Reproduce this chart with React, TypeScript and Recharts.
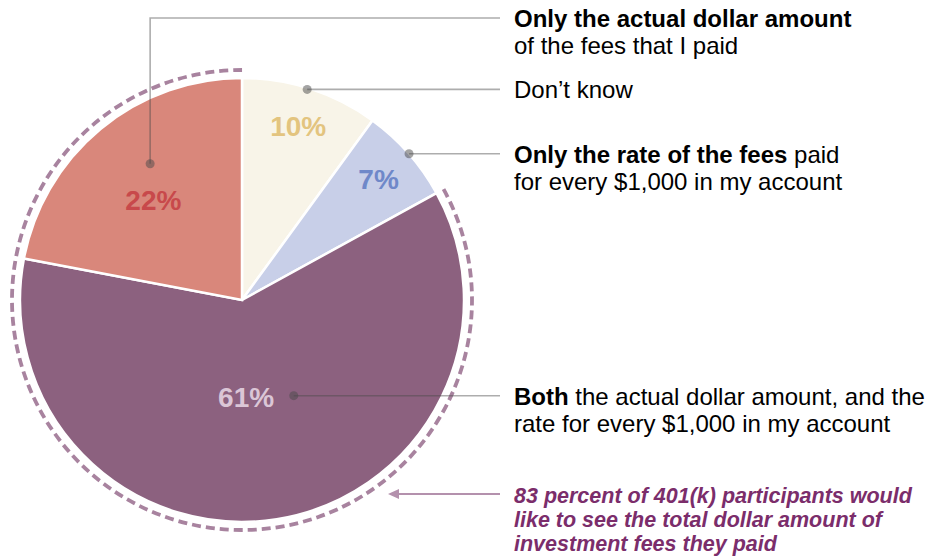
import React from 'react';
import { PieChart, Pie, Cell } from 'recharts';

// ---------- data ----------
const categories = [
  'Don’t know',
  'Only the rate of the fees',
  'Both',
  'Only the actual dollar amount',
];
const shares = [10, 7, 61, 22];
const pctLabels = ['10%', '7%', '61%', '22%'];

const answerLines = [
  [[{ t: 'Don’t know', b: false }]],
  [
    [{ t: 'Only the rate of the fees', b: true }, { t: ' paid', b: false }],
    [{ t: 'for every $1,000 in my account', b: false }],
  ],
  [
    [{ t: 'Both', b: true }, { t: ' the actual dollar amount, and the', b: false }],
    [{ t: 'rate for every $1,000 in my account', b: false }],
  ],
  [
    [{ t: 'Only the actual dollar amount', b: true }],
    [{ t: 'of the fees that I paid', b: false }],
  ],
];

const highlightNames = ['Other answers', 'Would like dollar amount'];
const highlightValues = [shares[0] + shares[1], shares[2] + shares[3]];
const highlightNote = [
  `${highlightValues[1]} percent of 401(k) participants would`,
  'like to see the total dollar amount of',
  'investment fees they paid',
];

const pieData = categories.map((name, i) => ({ name, value: shares[i] }));
const highlightData = highlightNames.map((name, i) => ({ name, value: highlightValues[i] }));

// ---------- styles / layout ----------
const FONT = '"Liberation Sans", Arial, sans-serif';
const fills = ['#f8f4e8', '#c8cfe8', '#8c617f', '#d9877b'];
const pctColors = ['#e3c47f', '#6f88c9', '#dbc6d6', '#c8494b'];
const labelPos = [
  { r: 0.82, da: 0 },
  { r: 0.82, da: 0 },
  { r: 0.44, da: -6.6 },
  { r: 0.6, da: 2.1 },
];
const dotPos = [
  { r: 0.993, da: 0.8 },
  { r: 1.0, da: -0.2 },
  { r: 0.49, da: 19.4 },
  { r: 0.74, da: -5.6 },
];
const TEXT_X = 514;
const LINE_END_X = 500;
const TOP_LINE_Y = 18;
const RAD = Math.PI / 180;

const polar = (cx: number, cy: number, r: number, a: number) => ({
  x: cx + r * Math.cos(-a * RAD),
  y: cy + r * Math.sin(-a * RAD),
});

const renderLabel = (props: any) => {
  const { cx, cy, midAngle, outerRadius, index } = props;
  const lp = labelPos[index];
  const dp = dotPos[index];
  const l = polar(cx, cy, outerRadius * lp.r, midAngle + lp.da);
  const d = polar(cx, cy, outerRadius * dp.r, midAngle + dp.da);
  const isTop = index === 3;
  const textY = isTop ? TOP_LINE_Y : d.y;
  const path = isTop
    ? `M${d.x},${d.y} L${d.x},${TOP_LINE_Y} L${LINE_END_X},${TOP_LINE_Y}`
    : `M${d.x},${d.y} L${LINE_END_X},${d.y}`;
  return (
    <g key={`lbl-${index}`}>
      <path d={path} fill="none" stroke="#4a4a4a" strokeOpacity={0.45} strokeWidth={1.6} />
      <circle cx={d.x} cy={d.y} r={4.5} fill="#4a4a4a" fillOpacity={0.5} />
      <text
        x={l.x}
        y={l.y}
        textAnchor="middle"
        dominantBaseline="central"
        fontFamily={FONT}
        fontWeight="bold"
        fontSize={28}
        fill={pctColors[index]}
      >
        {pctLabels[index]}
      </text>
      {answerLines[index].map((line, li) => (
        <text
          key={li}
          x={TEXT_X}
          y={textY + li * 27}
          dominantBaseline="central"
          fontFamily={FONT}
          fontSize={24}
          fill="#000"
          style={{ whiteSpace: 'pre' }}
        >
          {line.map((seg, si) => (
            <tspan key={si} fontWeight={seg.b ? 'bold' : 'normal'}>
              {seg.t}
            </tspan>
          ))}
        </text>
      ))}
    </g>
  );
};

const dashedArc = (props: any) => {
  const { cx, cy, outerRadius, startAngle, endAngle, index, name, payload } = props;
  const nm = name ?? payload?.name;
  if (nm !== highlightNames[1] && index !== 1) return <g />;
  const s = polar(cx, cy, outerRadius, startAngle);
  const e = polar(cx, cy, outerRadius, endAngle - 0.01);
  const large = Math.abs(startAngle - endAngle) > 180 ? 1 : 0;
  return (
    <path
      d={`M${s.x},${s.y} A${outerRadius},${outerRadius} 0 ${large} 1 ${e.x},${e.y}`}
      fill="none"
      stroke="#a8839f"
      strokeWidth={3.8}
      strokeDasharray="9 5"
      strokeLinecap="butt"
    />
  );
};

const renderNote = (props: any) => {
  const { index } = props;
  if (index !== 1) return <g key="note-0" />;
  const ay = 494;
  const tipX = 388;
  return (
    <g key="note-1">
      <line x1={LINE_END_X} y1={ay} x2={tipX + 6} y2={ay} stroke="#b491ad" strokeWidth={2.2} />
      <path d={`M${tipX},${ay} L${tipX + 11},${ay - 5} L${tipX + 11},${ay + 5} Z`} fill="#b491ad" />
      {highlightNote.map((t, i) => (
        <text
          key={i}
          x={TEXT_X}
          y={496 + i * 24}
          dominantBaseline="central"
          fontFamily={FONT}
          fontSize={21.5}
          fontWeight="bold"
          fontStyle="italic"
          fill="#7b2d6b"
        >
          {t}
        </text>
      ))}
    </g>
  );
};

export default function App() {
  return (
    <div style={{ position: 'absolute', left: 0, top: 0, width: 941, height: 556, background: '#fff' }}>
      <PieChart width={941} height={556} margin={{ top: 0, right: 0, bottom: 0, left: 0 }}>
        <Pie
          data={highlightData}
          dataKey="value"
          nameKey="name"
          cx={242}
          cy={300}
          innerRadius={0}
          outerRadius={230}
          startAngle={90}
          endAngle={-270}
          fill="none"
          stroke="none"
          shape={dashedArc}
          label={renderNote}
          labelLine={false}
          isAnimationActive={false}
        />
        <Pie
          data={pieData}
          dataKey="value"
          nameKey="name"
          cx={242}
          cy={300}
          innerRadius={0}
          outerRadius={222}
          startAngle={90}
          endAngle={-270}
          stroke="#ffffff"
          strokeWidth={2.5}
          label={renderLabel}
          labelLine={false}
          isAnimationActive={false}
        >
          {pieData.map((d, i) => (
            <Cell key={d.name} fill={fills[i]} />
          ))}
        </Pie>
      </PieChart>
    </div>
  );
}
